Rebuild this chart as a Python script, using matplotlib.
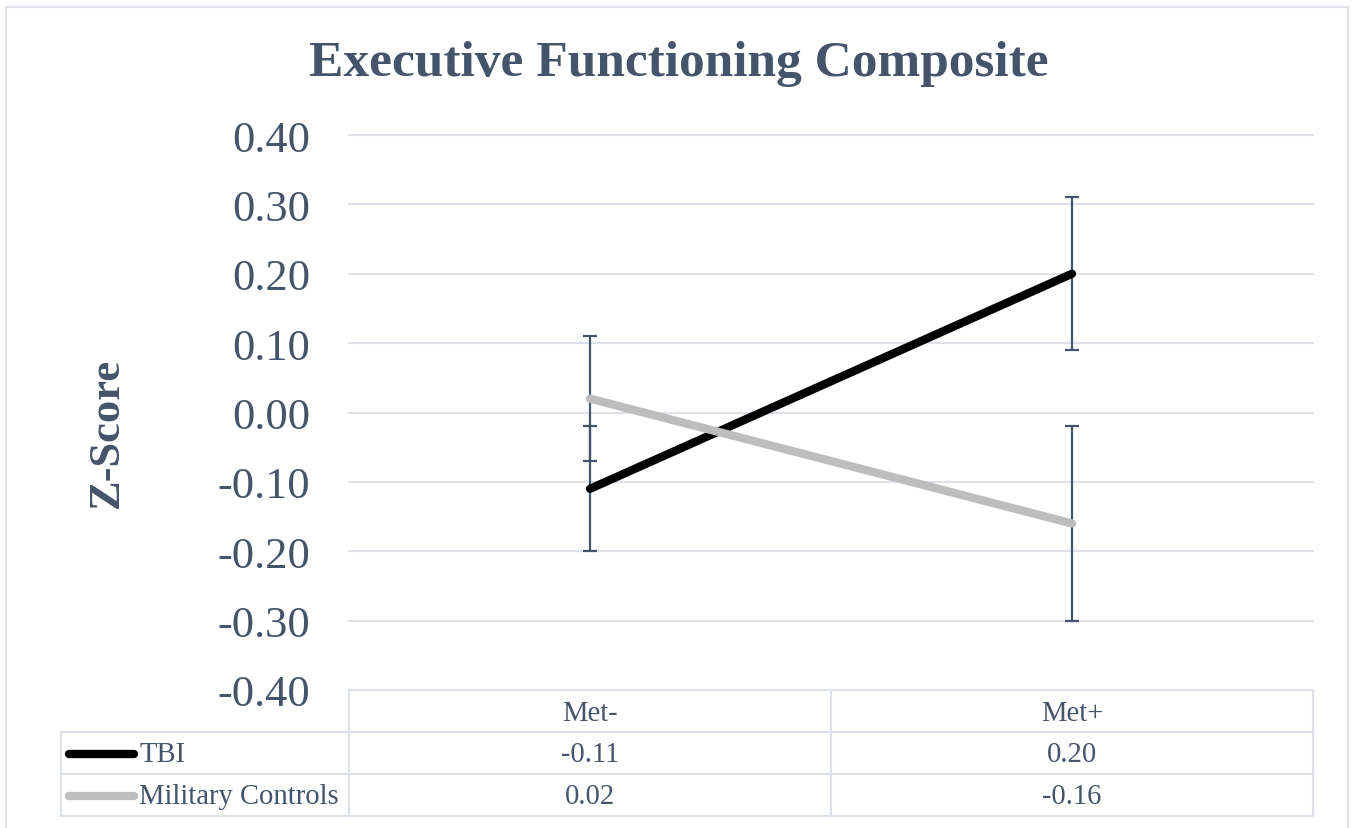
import matplotlib
matplotlib.use("Agg")
import matplotlib.pyplot as plt
from matplotlib.lines import Line2D
from matplotlib.patches import Rectangle

# ---- data ----
categories = ["Met-", "Met+"]
series_names = ["TBI", "Military Controls"]
tbi_values = [-0.11, 0.20]
tbi_err = [0.09, 0.11]
ctrl_values = [0.02, -0.16]
ctrl_err = [0.09, 0.14]
y_ticks = [-0.40, -0.30, -0.20, -0.10, 0.00, 0.10, 0.20, 0.30, 0.40]
title = "Executive Functioning Composite"
y_label = "Z-Score"

W, H = 1352, 829
TXT = "#44546A"
GRID = "#DDE2EA"
SERIF = ["Liberation Serif", "DejaVu Serif"]

fig = plt.figure(figsize=(W / 100, H / 100), dpi=100)

def fx(x):
    return x / W

def fy(y):
    return 1 - y / H

# outer frame
fig.add_artist(Rectangle((fx(6), fy(840)), fx(1348) - fx(6), fy(8) - fy(840),
                         transform=fig.transFigure, fill=False,
                         edgecolor="#E2E6EC", linewidth=1.5))

left, right, top, bottom = 349, 1313, 136, 691
ax = fig.add_axes([fx(left), fy(bottom), fx(right) - fx(left), fy(top) - fy(bottom)])
x = list(range(len(categories)))
ax.set_xlim(-0.5, len(categories) - 0.5)
ax.set_ylim(-0.40, 0.40)
ax.set_yticks(y_ticks)
ax.set_yticklabels([f"{v:.2f}" for v in y_ticks])
ax.set_xticks([])
for s in ax.spines.values():
    s.set_visible(False)
ax.tick_params(axis="y", length=0, pad=28, labelsize=32, labelcolor=TXT)
for lab in ax.get_yticklabels():
    lab.set_fontfamily(SERIF)
ax.grid(axis="y", color=GRID, linewidth=1.5)
for gl in ax.get_ygridlines():
    gl.set_clip_on(False)
ax.set_axisbelow(True)

eb_kw = dict(fmt="none", ecolor=TXT, elinewidth=1.6, capsize=5, capthick=1.6, zorder=2)
ax.errorbar(x, tbi_values, yerr=tbi_err, **eb_kw)
ax.errorbar(x, ctrl_values, yerr=ctrl_err, **eb_kw)
ax.plot(x, tbi_values, color="black", linewidth=6, solid_capstyle="round", zorder=3)
ax.plot(x, ctrl_values, color="#BDBDBD", linewidth=6, solid_capstyle="round", zorder=3)

# title and y label
fig.text(fx(679), fy(64), title, ha="center", va="center", fontsize=37,
         fontweight="bold", color=TXT, family=SERIF)
fig.text(fx(107), fy(433), y_label, ha="center", va="center", fontsize=32,
         fontweight="bold", color=TXT, family=SERIF, rotation=90)

# ---- data table ----
tl, tc1, tc2, tr = 61, 349, 831, 1313
rows_y = [691, 733, 775, 817]

def hline(x0, x1, y):
    fig.add_artist(Line2D([fx(x0), fx(x1)], [fy(y), fy(y)], transform=fig.transFigure,
                          color=GRID, linewidth=1.5))

def vline(xx, y0, y1):
    fig.add_artist(Line2D([fx(xx), fx(xx)], [fy(y0), fy(y1)], transform=fig.transFigure,
                          color=GRID, linewidth=1.5))

hline(tc1, tr, rows_y[0])
for yy in rows_y[1:]:
    hline(tl, tr, yy)
vline(tl, rows_y[1], rows_y[3])
vline(tc1, rows_y[0], rows_y[3])
vline(tc2, rows_y[0], rows_y[3])
vline(tr, rows_y[0], rows_y[3])

col_centers = [(tc1 + tc2) / 2, (tc2 + tr) / 2]
tfs = 20.6
for c, cat in zip(col_centers, categories):
    fig.text(fx(c), fy((rows_y[0] + rows_y[1]) / 2 + 2), cat, ha="center", va="center",
             fontsize=tfs, color=TXT, family=SERIF)

series_vals = [tbi_values, ctrl_values]
series_cols = ["black", "#BDBDBD"]
for i, (name, vals, col) in enumerate(zip(series_names, series_vals, series_cols)):
    yc = (rows_y[i + 1] + rows_y[i + 2]) / 2 + 1
    fig.add_artist(Line2D([fx(69), fx(134)], [fy(yc), fy(yc)], transform=fig.transFigure,
                          color=col, linewidth=6, solid_capstyle="round"))
    fig.text(fx(139), fy(yc), name, ha="left", va="center", fontsize=tfs,
             color=TXT, family=SERIF)
    for c, v in zip(col_centers, vals):
        fig.text(fx(c), fy(yc), f"{v:.2f}", ha="center", va="center", fontsize=tfs,
                 color=TXT, family=SERIF)

fig.savefig("out.png", dpi=100)
